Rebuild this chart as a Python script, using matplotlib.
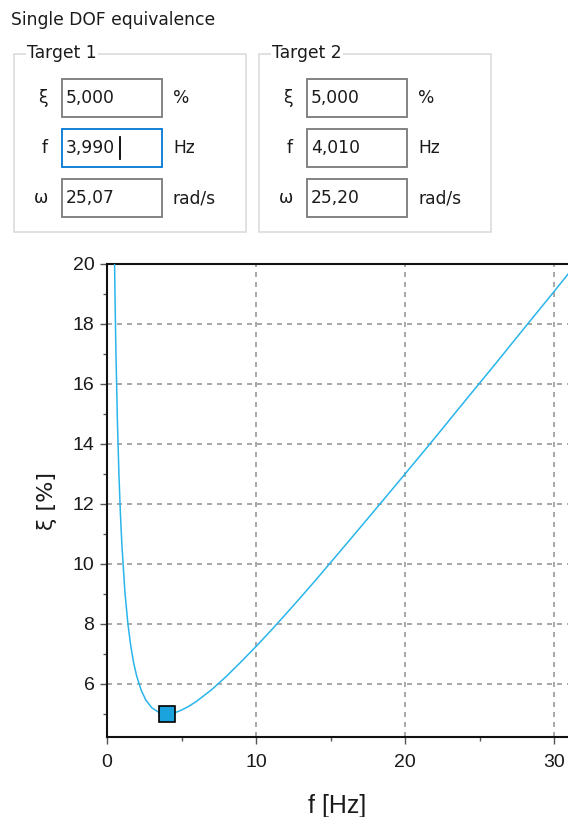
import matplotlib
matplotlib.use("Agg")
import matplotlib.pyplot as plt
from matplotlib.patches import Rectangle
from matplotlib.ticker import MultipleLocator

# ---- data ----
freq = [0.50, 0.55, 0.60, 0.70, 0.80, 0.90, 1.0, 1.2, 1.4, 1.6, 1.8, 2.0, 2.3, 2.6,
        3.0, 3.5, 4.0, 4.5, 5.0, 5.5, 6.0, 7.0, 8.0, 9.0, 10, 11, 12, 13, 14, 16,
        18, 20, 22, 24, 26, 28, 30, 31]
xi = [20.31, 18.53, 17.04, 14.72, 13.00, 11.67, 10.63, 9.08, 8.02, 7.25, 6.68, 6.25,
      5.79, 5.47, 5.21, 5.05, 5.00, 5.03, 5.13, 5.26, 5.42, 5.80, 6.25, 6.74, 7.25,
      7.78, 8.33, 8.89, 9.46, 10.63, 11.81, 13.00, 14.20, 15.42, 16.63, 17.86,
      19.08, 19.70]
marker_f = [4.0]
marker_xi = [5.0]

x_ticks = [0, 10, 20, 30]
y_ticks = [6, 8, 10, 12, 14, 16, 18, 20]

title_text = "Single DOF equivalence"
groups = ["Target 1", "Target 2"]
row_symbols = ["ξ", "f", "ω"]
row_units = ["%", "Hz", "rad/s"]
values_t1 = ["5,000", "3,990", "25,07"]
values_t2 = ["5,000", "4,010", "25,20"]

W, H = 568, 817
fig = plt.figure(figsize=(W / 100, H / 100), dpi=100)
fig.patch.set_facecolor("white")

# ---- GUI overlay in pixel coordinates ----
gui = fig.add_axes([0, 0, 1, 1])
gui.set_xlim(0, W)
gui.set_ylim(H, 0)
gui.axis("off")

gfont = dict(family="DejaVu Sans", fontsize=12.3, color="#1a1a1a")
gui.text(11, 20, title_text, va="center", ha="left", **gfont)

for gi, (gx, vals) in enumerate([(14, values_t1), (259, values_t2)]):
    gui.add_patch(Rectangle((gx, 54), 232, 178, fill=False, edgecolor="#dcdcdc", lw=1.2))
    gui.text(gx + 13, 53, groups[gi], va="center", ha="left",
             bbox=dict(facecolor="white", edgecolor="none", pad=1), **gfont)
    for r in range(3):
        yc = 98 + 50 * r
        bx = gx + 48
        focused = (gi == 0 and r == 1)
        gui.add_patch(Rectangle((bx, yc - 19), 100, 38, facecolor="white",
                                edgecolor="#0078d7" if focused else "#7a7a7a", lw=1.3))
        gui.text(bx - 14, yc, row_symbols[r], va="center", ha="right", **gfont)
        gui.text(bx + 4, yc, vals[r], va="center", ha="left", **gfont)
        gui.text(bx + 111, yc, row_units[r], va="center", ha="left", **gfont)
        if focused:
            gui.plot([bx + 58, bx + 58], [yc - 11, yc + 11], color="black", lw=1.3)

# ---- chart ----
ax = fig.add_axes([107 / W, 1 - 737 / H, (W - 107) / W, (737 - 264) / H])
ax.plot(freq, xi, color="#29b5ea", lw=1.1, zorder=3)
ax.plot(marker_f, marker_xi, marker="s", markersize=11.5, markerfacecolor="#1aa3dc",
        markeredgecolor="black", markeredgewidth=1.2, linestyle="none", zorder=4)

ax.set_xlim(0, (W - 107) / 14.9)
ax.set_ylim(20 - (737 - 264) / 30.0, 20)
ax.set_xticks(x_ticks)
ax.set_yticks(y_ticks)
ax.xaxis.set_minor_locator(MultipleLocator(5))
ax.yaxis.set_minor_locator(MultipleLocator(1))
ax.grid(True, which="major", color="#9a9a9a", linestyle=(0, (3, 3)), lw=1.2)
ax.spines["right"].set_visible(False)
for s in ["left", "bottom", "top"]:
    ax.spines[s].set_linewidth(1.5)
    ax.spines[s].set_color("#111111")
ax.tick_params(which="major", length=5, width=1.0, color="#555555",
               labelsize=14, pad=4)
ax.tick_params(which="minor", length=3, width=1.0, color="#555555")
ax.tick_params(axis="x", which="major", pad=7)
for lab in ax.get_xticklabels() + ax.get_yticklabels():
    lab.set_family("Liberation Sans")
    lab.set_color("#1a1a1a")

ax.set_xlabel("f [Hz]", fontsize=18, family="Liberation Sans", color="#1a1a1a", labelpad=17)
ax.set_ylabel("ξ [%]", fontsize=16, family="DejaVu Sans", color="#1a1a1a", labelpad=11)

fig.savefig("out.png", dpi=100)
